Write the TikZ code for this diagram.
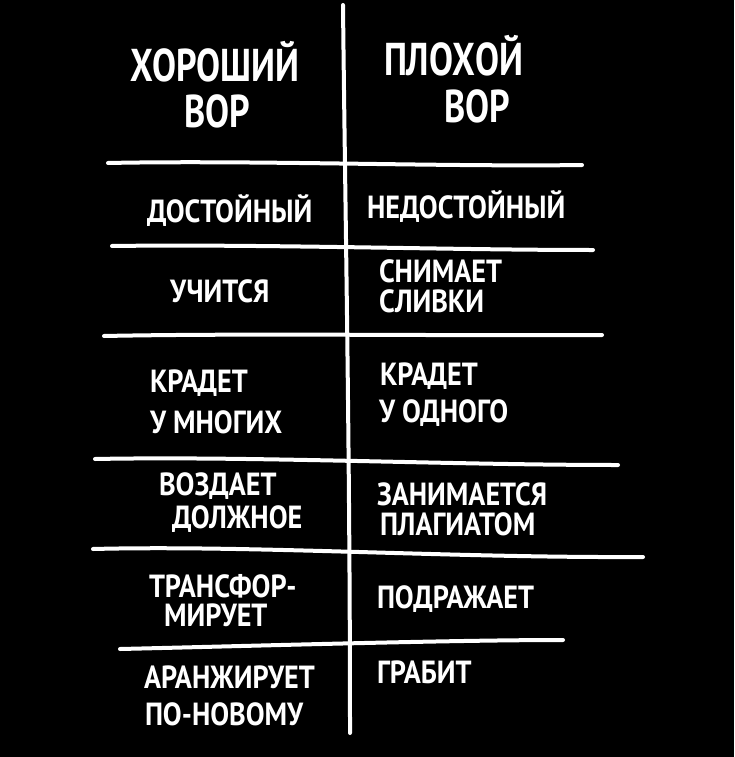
\documentclass[tikz,border=0pt]{standalone}
\usepackage{fontspec}
\setmainfont{PT Sans}[FakeStretch=0.88]
\newfontfamily\headfont{PT Sans}[FakeStretch=0.78]

\tikzset{every picture/.style={line width=4pt}}
\tikzset{
  chalk/.style={draw=white, line cap=round},
  word/.style={text=white, inner sep=0pt, anchor=base west, text height=0.7em, text depth=0pt, font=\bfseries\fontsize{32}{34}\selectfont},
  headword/.style={word, font=\headfont\bfseries\fontsize{46}{48}\selectfont},
}

\begin{document}
\begin{tikzpicture}[x=1pt,y=1pt,yscale=-1,xscale=1]
	% Board
	\fill[black] (0,0) rectangle (734,757);
	\useasboundingbox (0,0) rectangle (734,757);
	
	%Curve Lines [id:divider] 
	\draw [chalk]   (343,5) .. controls (345,200) and (350,450) .. (350,733) ;
	%Curve Lines [id:rule1] 
	\draw [chalk]   (108,163) .. controls (250,160) and (450,167) .. (582,165) ;
	%Curve Lines [id:rule2] 
	\draw [chalk]   (112,246) .. controls (260,244) and (450,250) .. (593,250) ;
	%Curve Lines [id:rule3] 
	\draw [chalk]   (104,336) .. controls (250,333) and (450,336) .. (602,335) ;
	%Curve Lines [id:rule4] 
	\draw [chalk]   (95,459) .. controls (250,456) and (450,465) .. (618,465) ;
	%Curve Lines [id:rule5] 
	\draw [chalk]   (93,549) .. controls (250,545) and (450,558) .. (643,557) ;
	%Curve Lines [id:rule6] 
	\draw [chalk]   (120,649) .. controls (250,646) and (450,640) .. (563,640) ;
	
	% Text Node
	\draw (128,82) node [headword] (goodHead) {ХОРОШИЙ};
	% Text Node
	\draw (182,128) node [headword] (goodThief) {ВОР};
	% Text Node
	\draw (382,76) node [headword] (badHead) {ПЛОХОЙ};
	% Text Node
	\draw (442,122) node [headword] (badThief) {ВОР};
	
	% Text Node
	\draw (145,222) node [word] (goodA) {ДОСТОЙНЫЙ};
	% Text Node
	\draw (365,218) node [word] (badA) {НЕДОСТОЙНЫЙ};
	% Text Node
	\draw (168,302) node [word] (goodB) {УЧИТСЯ};
	% Text Node
	\draw (377,282) node [word] (badBa) {СНИМАЕТ};
	% Text Node
	\draw (377,312) node [word] (badBb) {СЛИВКИ};
	% Text Node
	\draw (148,392) node [word] (goodCa) {КРАДЕТ};
	% Text Node
	\draw (148,433) node [word] (goodCb) {У МНОГИХ};
	% Text Node
	\draw (378,385) node [word] (badCa) {КРАДЕТ};
	% Text Node
	\draw (377,422) node [word] (badCb) {У ОДНОГО};
	% Text Node
	\draw (157,495) node [word] (goodDa) {ВОЗДАЕТ};
	% Text Node
	\draw (170,528) node [word] (goodDb) {ДОЛЖНОЕ};
	% Text Node
	\draw (375,505) node [word] (badDa) {ЗАНИМАЕТСЯ};
	% Text Node
	\draw (378,535) node [word] (badDb) {ПЛАГИАТОМ};
	% Text Node
	\draw (147,597) node [word] (goodEa) {ТРАНСФОР-};
	% Text Node
	\draw (162,626) node [word] (goodEb) {МИРУЕТ};
	% Text Node
	\draw (375,608) node [word] (badE) {ПОДРАЖАЕТ};
	% Text Node
	\draw (142,688) node [word] (goodFa) {АРАНЖИРУЕТ};
	% Text Node
	\draw (143,725) node [word] (goodFb) {ПО-НОВОМУ};
	% Text Node
	\draw (375,683) node [word] (badF) {ГРАБИТ};
	
\end{tikzpicture}
\end{document}
